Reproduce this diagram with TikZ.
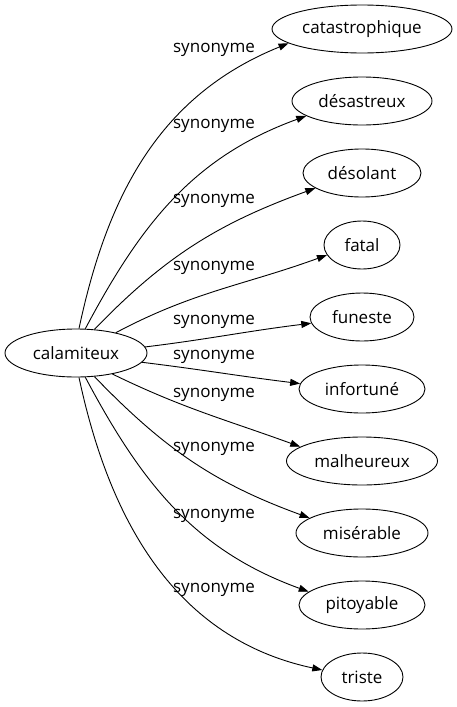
\documentclass[tikz,border=0pt]{standalone}
\usepackage{fontspec}
\setmainfont{Open Sans}
\usetikzlibrary{shapes.geometric,arrows.meta}

\begin{document}
\begin{tikzpicture}[x=1pt,y=1pt]
\tikzstyle{every node}+=[inner sep=0pt, font=\fontsize{17}{20}\selectfont]
\tikzstyle{word}=[draw=black, line width=0.9pt, ellipse, minimum height=48pt]
\tikzstyle{syn}=[black, line width=0.9pt, -{Triangle[length=10pt,width=7pt]}]
\useasboundingbox (0,0) rectangle (457,-707);
\node [word, minimum width=142pt] (cal) at (76,-353) {calamiteux};
\node [word, minimum width=180pt] (cata) at (362,-29) {catastrophique};
\node [word, minimum width=140pt] (desa) at (362,-101) {désastreux};
\node [word, minimum width=118pt] (deso) at (362,-173) {désolant};
\node [word, minimum width=76pt] (fatal) at (362,-245) {fatal};
\node [word, minimum width=104pt] (fun) at (362,-317) {funeste};
\node [word, minimum width=126pt] (info) at (362,-389) {infortuné};
\node [word, minimum width=151pt] (malh) at (362,-461) {malheureux};
\node [word, minimum width=132pt] (mise) at (362,-533) {misérable};
\node [word, minimum width=126pt] (pito) at (362,-605) {pitoyable};
\node [word, minimum width=82pt] (trist) at (362,-677) {triste};
\draw [syn] (cal.83) to [out=78,in=202] (cata.191);
\draw (214,-50) node (s1) {synonyme};
\draw [syn] (cal.69) to [out=62,in=200] (desa.195);
\draw (214,-126) node (s2) {synonyme};
\draw [syn] (cal.52) to [out=46,in=200] (deso.198);
\draw (214,-201) node (s3) {synonyme};
\draw [syn] (cal.27) to [out=28,in=200] (fatal.196);
\draw (214,-268) node (s4) {synonyme};
\draw [syn] (cal.5) to [out=7,in=187] (fun.187);
\draw (214,-322) node (s5) {synonyme};
\draw [syn] (cal.-8) to [out=-7,in=173] (info.175);
\draw (214,-357) node (s6) {synonyme};
\draw [syn] (cal.-30) to [out=-26,in=160] (malh.167);
\draw (214,-395) node (s7) {synonyme};
\draw [syn] (cal.-52) to [out=-46,in=160] (mise.164);
\draw (214,-449) node (s8) {synonyme};
\draw [syn] (cal.-69) to [out=-62,in=160] (pito.166);
\draw (214,-516) node (s9) {synonyme};
\draw [syn] (cal.-83) to [out=-78,in=168] (trist.170);
\draw (214,-590) node (s10) {synonyme};
\end{tikzpicture}
\end{document}
